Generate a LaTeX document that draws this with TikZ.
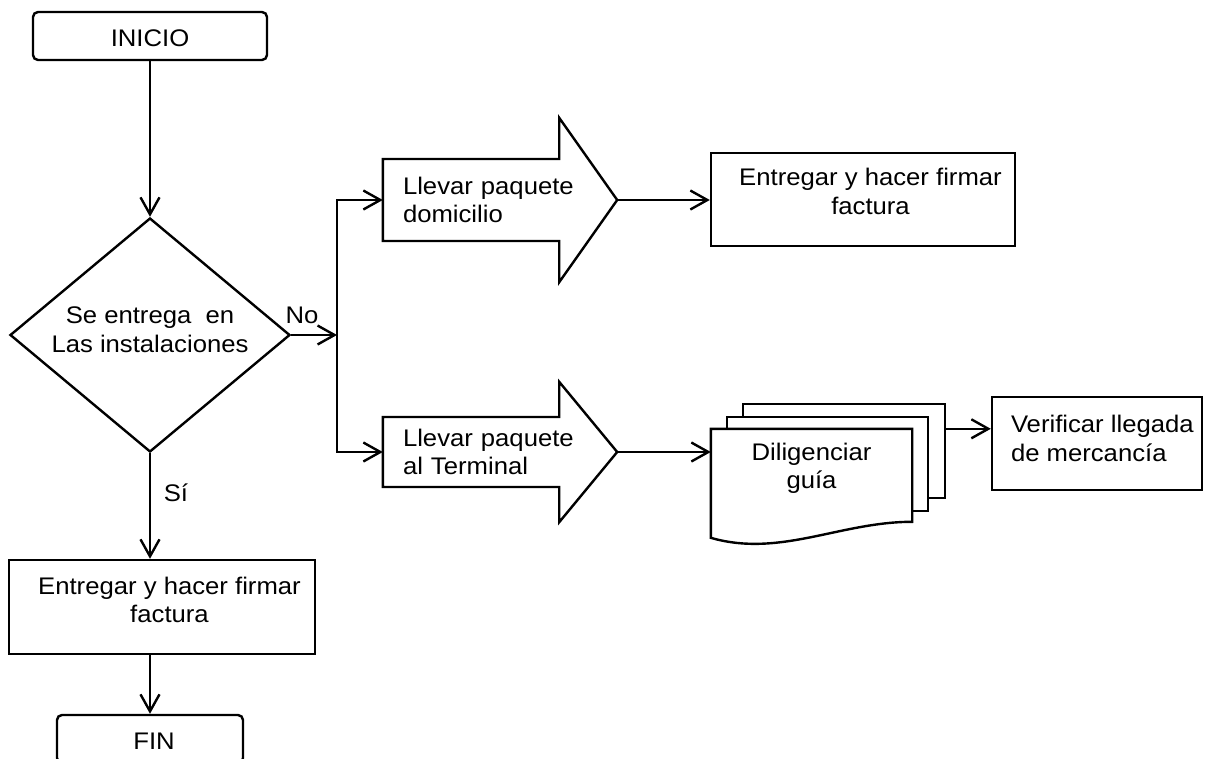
\documentclass[tikz,border=0pt]{standalone}
\usepackage{fontspec}
\setmainfont{Liberation Sans}[FakeStretch=1.07]
\usetikzlibrary{arrows.meta,shapes.geometric}
\pgfdeclarelayer{bg}
\pgfsetlayers{bg,main}
\begin{document}
\begin{tikzpicture}[x=1pt,y=1pt,font=\fontsize{24}{28.5}\selectfont,
 ln/.style={line width=2.4pt},
 flow/.style={ln,-{Straight Barb[length=17pt,width=19pt]}},
 term/.style={draw,ln,rounded corners=5pt,minimum width=234pt,minimum height=48pt},
 box/.style={draw,ln,inner sep=0pt,minimum height=93pt},
 txt/.style={align=center,inner sep=0pt},
 decision/.style={draw,ln,diamond,aspect=1.2,inner sep=0pt,minimum width=280pt,minimum height=234pt},
 flecha/.style={minimum width=234pt,text width=194pt,inner xsep=20pt,align=left},
 hoja/.style={draw,ln,fill=white,minimum width=201pt,minimum height=94pt}]
\useasboundingbox (0,0) rectangle (1205,-758);
\clip (0,0) rectangle (1205,-758);
\node[term] (inicio) at (150,-36) {};
\node[txt] (inicioTxt) at ([yshift=-2.5pt]inicio.center) {INICIO};
\node[decision] (entrega) at (150,-335) {};
\node[txt] (entregaTxt) at ([yshift=5.5pt]entrega.center) {Se entrega\ \ en\\Las instalaciones};
\coordinate (split) at (337,-335);
\node (no) at (302,-315) {No};
\node[flecha,minimum height=164pt] (llevarDom) at (500,-200) {Llevar paquete\\domicilio};
\node[flecha,minimum height=140pt] (llevarTer) at (500,-452) {Llevar paquete\\al Terminal};
\foreach \n/\h in {llevarDom/41pt,llevarTer/35pt}
 \draw[ln] ([yshift=\h]\n.west) -- ([xshift=-58pt,yshift=\h]\n.east) -- ([xshift=-58pt]\n.north east) -- (\n.east)
  -- ([xshift=-58pt]\n.south east) -- ([xshift=-58pt,yshift=-\h]\n.east) -- ([yshift=-\h]\n.west) -- cycle;
\node[box,minimum width=304pt] (entDom) at (863,-199.5) {};
\node[txt] (entDomTxt) at ([shift={(7.5,8)}]entDom.center) {Entregar y hacer firmar\\factura};
\node[align=center,minimum width=201pt,minimum height=79pt] (dilig) at (811.5,-468.5) {Diligenciar\\guía};
\begin{pgfonlayer}{bg}
\node[hoja,minimum width=202pt] (hoja3) at (844,-451) {};
\node[hoja] (hoja2) at (827.5,-464) {};
\draw[ln,fill=white] (dilig.north west) -- (dilig.north east) -- ([yshift=-93pt]dilig.north east)
 .. controls +(-72,0) and +(69,-20) .. ([yshift=-109pt]dilig.north west) -- cycle;
\end{pgfonlayer}
\node[box,minimum width=210pt] (verif) at (1097,-443.5) {};
\node[txt,align=left,anchor=west] (verifTxt) at ([yshift=5pt]verif.west) [xshift=20pt] {Verificar llegada\\de mercancía};
\node[box,minimum width=306pt,minimum height=94pt] (entLoc) at (162,-607) {};
\node[txt] (entLocTxt) at ([shift={(7.5,7)}]entLoc.center) {Entregar y hacer firmar\\factura};
\node (si) at (176,-493) {Sí};
\node[term,minimum width=186pt] (fin) at (150,-739) {};
\node[txt] (finTxt) at ([shift={(4,-2.5)}]fin.center) {FIN};
\draw[flow] (inicio) -- (entrega);
\draw[flow] (entrega) -- (split);
\draw[flow] (split) |- (llevarDom.west);
\draw[flow] (split) |- (llevarTer.west);
\draw[flow] (llevarDom.east) -- (llevarDom.east -| entDom.west);
\draw[flow] (llevarTer.east) -- (llevarTer.east -| dilig.west);
\draw[flow] (dilig.north -| hoja3.east) -- (dilig.north -| verif.west);
\draw[flow] (entrega.south) -- (entrega.south |- entLoc.north);
\draw[flow] (entLoc.south -| fin.north) -- (fin.north);
\end{tikzpicture}
\end{document}
